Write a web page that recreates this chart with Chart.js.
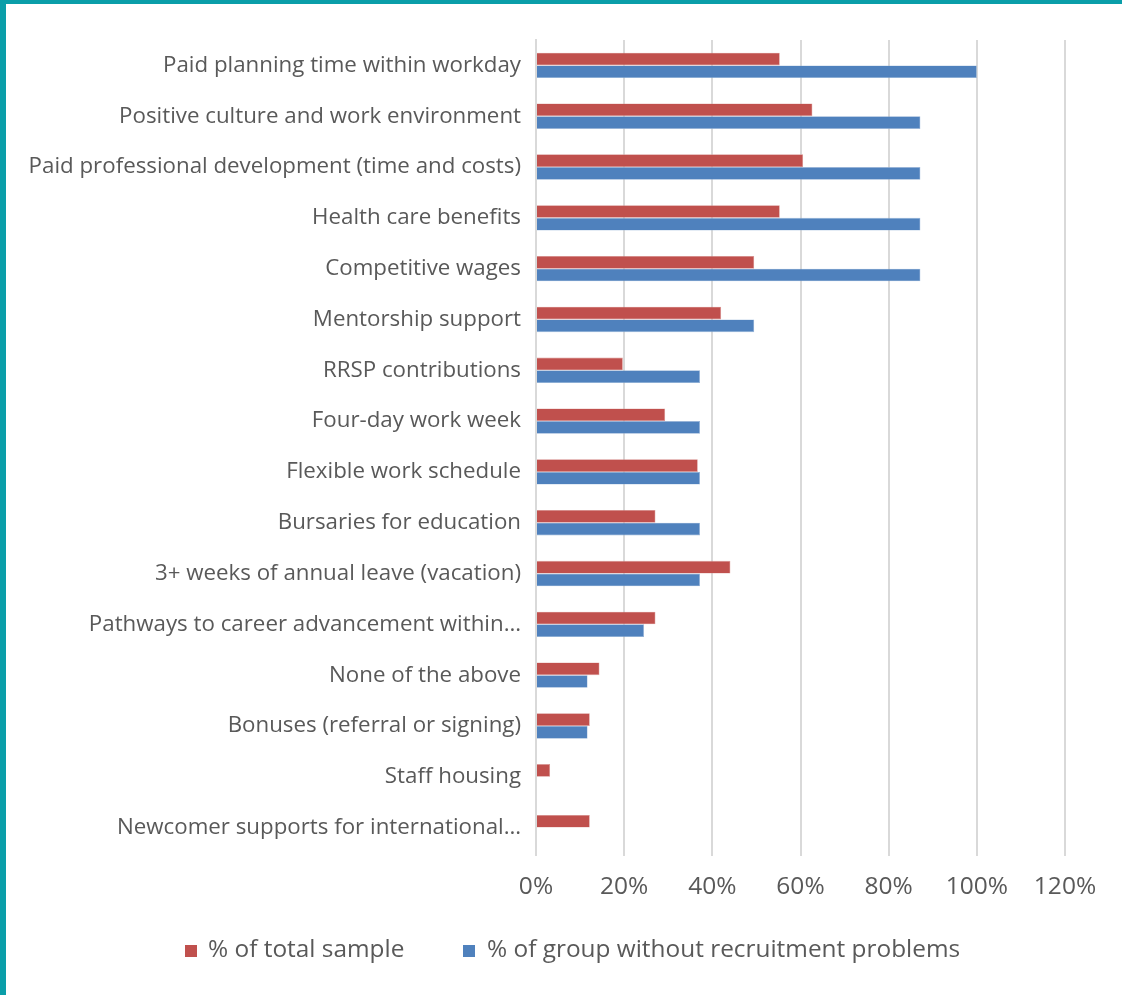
<!DOCTYPE html>
<html>
<head>
<meta charset="utf-8">
<script src="https://cdn.jsdelivr.net/npm/chart.js@4.4.0/dist/chart.umd.min.js"></script>
<style>
  html, body { margin: 0; padding: 0; background: #ffffff; }
  #frame { position: absolute; left: 0; top: 0; width: 1116px; height: 991px;
           border-left: 6px solid #0a9ea9; border-top: 4px solid #0a9ea9; background: #fff; }
  #wrap { position: absolute; left: 0; top: 0; width: 1116px; height: 991px; }
</style>
</head>
<body>
<div id="frame"><div id="wrap"><canvas id="c"></canvas></div></div>
<script>
const categories = [
  "Paid planning time within workday",
  "Positive culture and work environment",
  "Paid professional development (time and costs)",
  "Health care benefits",
  "Competitive wages",
  "Mentorship support",
  "RRSP contributions",
  "Four-day work week",
  "Flexible work schedule",
  "Bursaries for education",
  "3+ weeks of annual leave (vacation)",
  "Pathways to career advancement within\u2026",
  "None of the above",
  "Bonuses (referral or signing)",
  "Staff housing",
  "Newcomer supports for international\u2026"
];
const totalSample = [55.3, 62.7, 60.6, 55.3, 49.5, 42.0, 19.7, 29.3, 36.7, 27.1, 44.1, 27.1, 14.4, 12.2, 3.2, 12.2];
const noRecruitProblems = [100, 87.2, 87.2, 87.2, 87.2, 49.5, 37.2, 37.2, 37.2, 37.2, 37.2, 24.5, 11.7, 11.7, 0, 0];
const seriesNames = ["% of total sample", "% of group without recruitment problems"];
const xTicks = [0, 20, 40, 60, 80, 100, 120];

const FONT = "'Open Sans', 'DejaVu Sans', sans-serif";
const GREY = "#595959";

// Legend drawn at the bottom, Excel style (small square + label)
const legendPlugin = {
  id: 'bottomLegend',
  afterDraw(chart) {
    const ctx = chart.ctx;
    const items = [
      { x: 179, tx: 202 },
      { x: 457, tx: 481 }
    ];
    const y = 946, box = 12;
    ctx.save();
    ctx.font = "24.4px " + FONT;
    ctx.textBaseline = 'middle';
    ctx.textAlign = 'left';
    chart.data.datasets.forEach((ds, i) => {
      const it = items[i];
      ctx.fillStyle = ds.backgroundColor;
      ctx.fillRect(it.x, y - box / 2 + 1, box, box);
      ctx.fillStyle = GREY;
      ctx.fillText(ds.label, it.tx, y);
    });
    ctx.restore();
  }
};

new Chart(document.getElementById('c'), {
  type: 'bar',
  data: {
    labels: categories,
    datasets: [
      { label: seriesNames[0], data: totalSample, backgroundColor: '#c0504d',
        borderColor: '#d99694', borderWidth: 0.6, categoryPercentage: 0.5, barPercentage: 1 },
      { label: seriesNames[1], data: noRecruitProblems, backgroundColor: '#4f81bd',
        borderColor: '#95b3d7', borderWidth: 0.6, categoryPercentage: 0.5, barPercentage: 1 }
    ]
  },
  options: {
    indexAxis: 'y',
    responsive: true,
    maintainAspectRatio: false,
    animation: false,
    layout: { padding: { top: 36, right: 57, left: 0, bottom: 82 } },
    plugins: {
      tooltip: { enabled: false },
      legend: { display: false }
    },
    scales: {
      x: {
        min: 0, max: 120,
        afterBuildTicks: (s) => { s.ticks = xTicks.map(v => ({ value: v })); },
        afterFit: (s) => { s.height = 60; },
        border: { display: false },
        grid: { color: '#d9d9d9', lineWidth: 2, drawTicks: true, tickLength: 3 },
        ticks: { color: GREY, font: { family: FONT, size: 24.5 }, padding: 16,
                 callback: (v) => v + '%' }
      },
      y: {
        afterFit: (s) => { s.width = 530; },
        border: { display: true, color: '#d9d9d9', width: 2 },
        grid: { display: false },
        ticks: { color: GREY, font: { family: FONT, size: 22.3 }, padding: 7, autoSkip: false }
      }
    }
  },
  plugins: [legendPlugin]
});
</script>
</body>
</html>
